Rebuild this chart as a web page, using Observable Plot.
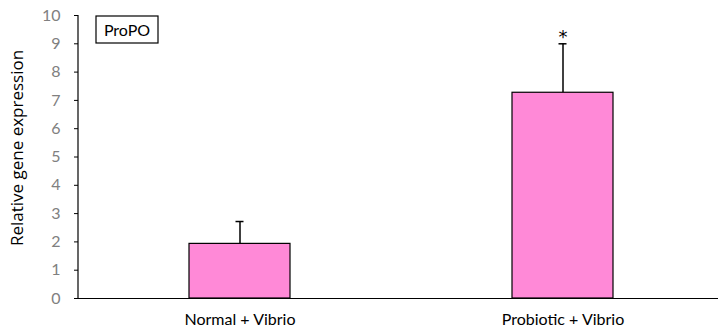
<!DOCTYPE html>
<html><head><meta charset="utf-8">
<script src="https://cdn.jsdelivr.net/npm/d3@7"></script>
<script src="https://cdn.jsdelivr.net/npm/@observablehq/plot@0.6"></script>
<style>
body{margin:0;background:#fff;}
#chart{position:relative;width:718px;height:335px;}
</style>
</head><body><div id="chart"></div>
<script>
const categories = ["Normal + Vibrio", "Probiotic + Vibrio"];
const means = [1.93, 7.27];
const errors = [0.79, 1.73];
const marks = ["", "*"];
const yTicks = [0,1,2,3,4,5,6,7,8,9,10];
const panelLabel = "ProPO";
const yLabel = "Relative gene expression";

const data = categories.map((c,i)=>({cat:c, v:means[i], e:errors[i], top:means[i]+errors[i], m:marks[i]}));

const chart = Plot.plot({
  width:718, height:335,
  marginLeft:78, marginRight:0, marginTop:15, marginBottom:37,
  x:{domain:categories, range:[78,725], paddingInner:0.687, paddingOuter:0.345, align:0.5, label:null},
  y:{domain:[0,10], label:null},
  style:{fontFamily:"Lato, 'Open Sans', sans-serif", fontSize:"16px", background:"#fff"},
  marks:[
    Plot.axisY({ticks:yTicks, tickSize:4, tickPadding:14, fill:"#808080", stroke:"#000", fontSize:16, label:null}),
    Plot.axisX({tickSize:0, tickPadding:15, fill:"#000", fontSize:16, label:null}),
    Plot.ruleX(data, {x:"cat", y1:"v", y2:"top", stroke:"#000", strokeWidth:1.5}),
    Plot.tickY(data, {x:"cat", y:"top", stroke:"#000", strokeWidth:1.5, insetLeft:46.5, insetRight:46.5}),
    Plot.barY(data, {x:"cat", y:"v", fill:"#ff89d7", stroke:"#000", strokeWidth:1.2}),
    Plot.text(data, {x:"cat", y:"top", text:"m", dy:-7, fontSize:18, fill:"#000", fontFamily:"'DejaVu Sans', sans-serif"}),
    Plot.ruleY([0], {stroke:"#000", strokeWidth:1.2})
  ]
});
document.getElementById("chart").appendChild(chart);

const svg = d3.select(chart);
svg.append("line").attr("x1",78).attr("x2",78).attr("y1",15).attr("y2",298).attr("stroke","#000").attr("stroke-width",1.2);
svg.append("text").attr("transform","translate(23,148) rotate(-90)").attr("text-anchor","middle")
  .style("font-family","'Open Sans', sans-serif").style("font-size","17px").attr("fill","#000").text(yLabel);
const g = svg.append("g");
g.append("rect").attr("x",96).attr("y",16).attr("width",62).attr("height",27).attr("fill","#fff").attr("stroke","#000").attr("stroke-width",1.2);
g.append("text").attr("x",127).attr("y",35.5).attr("text-anchor","middle").style("font-family","Lato, sans-serif").style("font-size","16px").attr("fill","#000").text(panelLabel);
</script></body></html>
